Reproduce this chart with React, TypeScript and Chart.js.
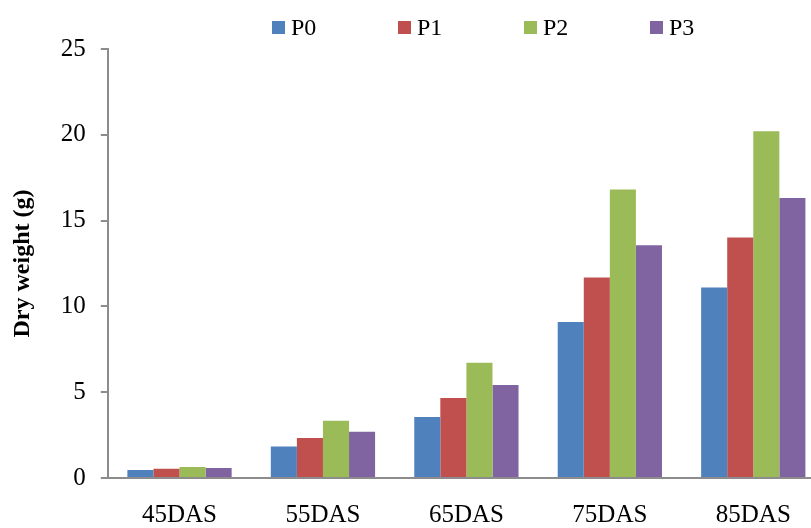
import React, { useEffect, useRef } from "react";
import { Chart, registerables } from "chart.js";

Chart.register(...registerables);

const categories = ["45DAS", "55DAS", "65DAS", "75DAS", "85DAS"];
const seriesNames = ["P0", "P1", "P2", "P3"];
const seriesColors = ["#4F81BD", "#C0504D", "#9BBB59", "#8064A2"];
const p0 = [0.47, 1.84, 3.55, 9.09, 11.1];
const p1 = [0.54, 2.33, 4.66, 11.69, 14.02];
const p2 = [0.64, 3.34, 6.72, 16.81, 20.2];
const p3 = [0.58, 2.7, 5.42, 13.57, 16.31];
const seriesValues = [p0, p1, p2, p3];
const yTicks = [0, 5, 10, 15, 20, 25];
const yTitle = "Dry weight (g)";

const FONT = "'Liberation Serif', 'Times New Roman', serif";

export default function App() {
  const ref = useRef<HTMLCanvasElement | null>(null);

  useEffect(() => {
    if (!ref.current) return;
    const chart = new Chart(ref.current, {
      type: "bar",
      data: {
        labels: categories,
        datasets: seriesNames.map((name, i) => ({
          label: name,
          data: seriesValues[i],
          backgroundColor: seriesColors[i],
          borderWidth: 0,
          categoryPercentage: 0.727,
          barPercentage: 1,
        })),
      },
      options: {
        responsive: false,
        animation: false,
        layout: { padding: { top: 49, left: 0, right: 0, bottom: -25 } },
        plugins: {
          legend: { display: false },
          tooltip: { enabled: false },
        },
        scales: {
          x: {
            grid: { drawOnChartArea: false, drawTicks: false },
            border: { color: "#8c8c8c", width: 2 },
            ticks: {
              color: "#000",
              font: { family: FONT, size: 25, lineHeight: 1 },
              padding: 25,
              maxRotation: 0,
            },
          },
          y: {
            min: 0,
            max: 25,
            afterBuildTicks: (scale: any) => {
              scale.ticks = yTicks.map((v) => ({ value: v }));
            },
            grid: { drawOnChartArea: false, drawTicks: true, tickLength: 7, color: "#8c8c8c", lineWidth: 2 },
            border: { color: "#8c8c8c", width: 2 },
            ticks: {
              color: "#000",
              font: { family: FONT, size: 25 },
              padding: 15,
            },
            title: {
              display: true,
              text: yTitle,
              color: "#000",
              font: { family: FONT, size: 24, weight: "bold", lineHeight: 1.2 },
              padding: { top: 8, bottom: 9 },
            },
          },
        },
      },
    });
    return () => chart.destroy();
  }, []);

  return (
    <div
      style={{
        position: "fixed",
        left: 0,
        top: 0,
        width: 811,
        height: 528,
        overflow: "hidden",
        background: "#fff",
      }}
    >
      <canvas ref={ref} width={825} height={528} style={{ position: "absolute", left: 0, top: 0 }} />
      <div
        style={{
          position: "absolute",
          left: 272,
          top: 13,
          display: "flex",
          alignItems: "center",
          fontFamily: FONT,
          fontSize: 24,
          color: "#000",
          lineHeight: "28px",
        }}
      >
        {seriesNames.map((name, i) => (
          <div key={name} style={{ display: "flex", alignItems: "center", width: 126 }}>
            <span
              style={{
                display: "inline-block",
                width: 13,
                height: 13,
                background: seriesColors[i],
                marginRight: 6,
              }}
            />
            <span>{name}</span>
          </div>
        ))}
      </div>
    </div>
  );
}
